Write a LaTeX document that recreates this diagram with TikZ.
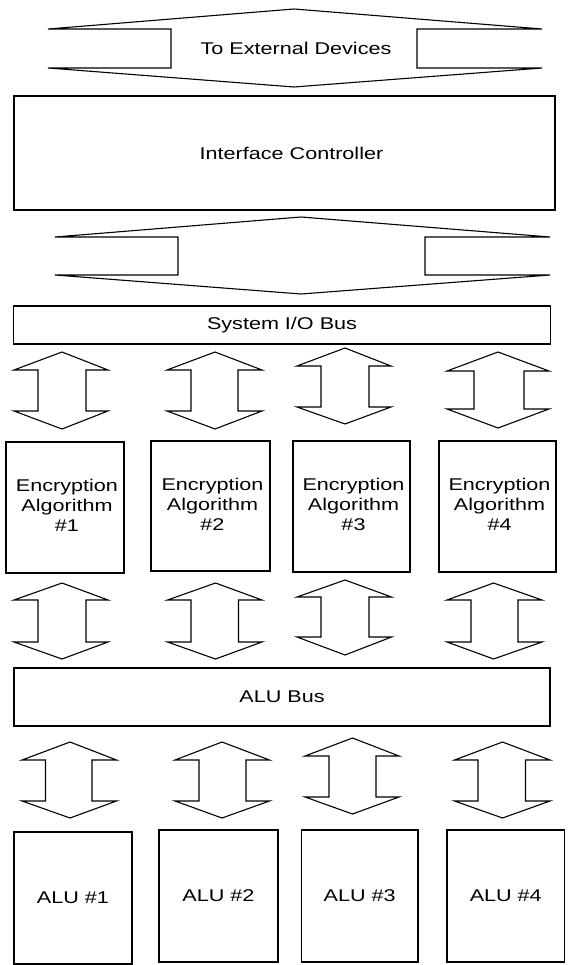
\documentclass[tikz,border=0pt]{standalone}
\usepackage{fontspec}
\usepackage{graphicx}
\setmainfont{Liberation Sans}
\newcommand{\wtxt}[1]{\scalebox{1.27}[1]{#1}}
\newcommand{\enctxt}[1]{\hspace*{4pt}\wtxt{\begin{tabular}{@{}c@{}}Encryption\\Algorithm\\\##1\end{tabular}}}
\newcommand{\dblarrow}[9]{\draw[blk] (#3,#6) -- (#1,#7) -- (#2,#7) -- (#2,#8) -- (#1,#8) -- (#3,#9) -- (#5,#8) -- (#4,#8) -- (#4,#7) -- (#5,#7) -- cycle;}
\begin{document}
\begin{tikzpicture}[x=1pt,y=-1pt,
  box/.style={draw, line width=1.1pt, inner sep=0pt, font=\fontsize{17}{20}\selectfont},
  blk/.style={draw, line width=1.1pt, line join=miter},
  lbl/.style={inner sep=0pt, font=\fontsize{17}{20}\selectfont}]
\useasboundingbox (0,0) rectangle (571,965);
% top block arrow
\dblarrow{48}{171}{294}{417}{542}{9}{29}{68}{87}
\node[lbl] (ext) at (296,48.5) {\wtxt{To External Devices}};
% interface controller
\node[box, minimum width=541pt, minimum height=114pt] (ic) at (284.5,153) {\hspace*{14pt}\wtxt{Interface Controller}};
% second block arrow
\dblarrow{55}{178}{301}{425}{550}{217}{237}{275}{294}
% system I/O bus
\node[box, minimum width=537pt, minimum height=38pt] (sio) at (282,325) {\wtxt{System I/O Bus}};
% row 1 arrows
\dblarrow{14}{38}{62}{86}{108}{352}{370}{411}{429}
\dblarrow{167}{191}{215}{238}{262}{352}{370}{411}{429}
\dblarrow{297}{321}{345}{369}{391}{348}{366}{407}{424}
\dblarrow{447}{474}{498}{524}{549}{352}{371}{409}{428}
% encryption boxes
\node[box, minimum width=118pt, minimum height=131pt] (e1) at (65,507.5) {\enctxt{1}};
\node[box, minimum width=119pt, minimum height=130pt] (e2) at (210.5,506) {\enctxt{2}};
\node[box, minimum width=117pt, minimum height=131pt] (e3) at (351.5,506.5) {\enctxt{3}};
\node[box, minimum width=117pt, minimum height=131pt] (e4) at (497.5,506.5) {\enctxt{4}};
% row 2 arrows
\dblarrow{14}{38}{62}{86}{108}{583}{600}{642}{659}
\dblarrow{167.5}{191}{215.5}{238.5}{262}{583}{600}{642}{659}
\dblarrow{297}{321}{345}{369}{391.5}{580}{597}{637}{655}
\dblarrow{447}{471}{493.5}{518}{542}{583}{600}{642}{659}
% ALU bus
\node[box, minimum width=536pt, minimum height=58pt] (alub) at (282,697) {\wtxt{ALU Bus}};
% row 3 arrows
\dblarrow{22}{45.5}{70}{92}{116.5}{742}{760}{801}{818}
\dblarrow{175}{199}{222}{246}{269.5}{742}{760}{801}{818}
\dblarrow{305}{329}{352.5}{376}{399}{738}{756}{797}{814}
\dblarrow{454.5}{478}{502.5}{525.5}{550}{742}{760}{801}{818}
% ALU boxes
\node[box, minimum width=118pt, minimum height=132pt] (a1) at (73,898) {\wtxt{ALU \#1}};
\node[box, minimum width=119pt, minimum height=132pt] (a2) at (218.5,896) {\wtxt{ALU \#2}};
\node[box, minimum width=116.5pt, minimum height=132pt] (a3) at (359.75,896) {\wtxt{ALU \#3}};
\node[box, minimum width=117.5pt, minimum height=132pt] (a4) at (505.75,896) {\wtxt{ALU \#4}};
\end{tikzpicture}
\end{document}
